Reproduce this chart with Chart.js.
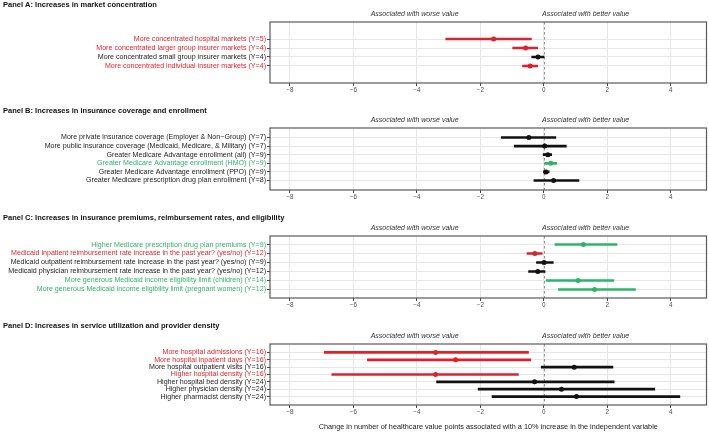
<!DOCTYPE html>
<html>
<head>
<meta charset="utf-8">
<script src="https://cdn.jsdelivr.net/npm/chart.js@4"></script>
<style>
  body { margin: 0; background: #fff; width: 709px; height: 432px; position: relative; overflow: hidden; }
  canvas { position: absolute; left: 0; }
</style>
</head>
<body>
<canvas id="panelA" width="709" height="95"></canvas>
<canvas id="panelB" width="709" height="96"></canvas>
<canvas id="panelC" width="709" height="97"></canvas>
<canvas id="panelD" width="709" height="111"></canvas>
<script>
// shared x axis
const xTicks = [-8, -6, -4, -2, 0, 2, 4];
const xTitle = "Change in number of healthcare value points associated with a 10% increase in the independent variable";

// Panel A
const titleA = "Panel A: Increases in market concentration";
const labelsA = [
  "More concentrated hospital markets (Y=5)",
  "More concentrated larger group insurer markets (Y=4)",
  "More concentrated small group insurer markets (Y=4)",
  "More concentrated individual insurer markets (Y=4)"
];
const groupA = ["worse", "worse", "ns", "worse"];
const lowA = [-3.09, -0.98, -0.38, -0.67];
const estA = [-1.58, -0.57, -0.18, -0.43];
const highA = [-0.39, -0.19, 0.01, -0.19];

// Panel B
const titleB = "Panel B: Increases in insurance coverage and enrollment";
const labelsB = [
  "More private insurance coverage (Employer & Non\u2212Group) (Y=7)",
  "More public insurance coverage (Medicaid, Medicare, & Military) (Y=7)",
  "Greater Medicare Advantage enrollment (all) (Y=9)",
  "Greater Medicare Advantage enrollment (HMO) (Y=9)",
  "Greater Medicare Advantage enrollment (PPO) (Y=9)",
  "Greater Medicare prescription drug plan enrollment (Y=8)"
];
const groupB = ["ns", "ns", "ns", "better", "ns", "ns"];
const lowB = [-1.34, -0.93, -0.02, 0.03, -0.01, -0.31];
const estB = [-0.47, 0.03, 0.13, 0.22, 0.07, 0.31];
const highB = [0.38, 0.71, 0.25, 0.41, 0.17, 1.11];

// Panel C
const titleC = "Panel C: Increases in insurance premiums, reimbursement rates, and eligibility";
const labelsC = [
  "Higher Medicare prescription drug plan premiums (Y=9)",
  "Medicaid inpatient reimbursement rate increase in the past year? (yes/no) (Y=12)",
  "Medicaid outpatient reimbursement rate increase in the past year? (yes/no) (Y=9)",
  "Medicaid physician reimbursement rate increase in the past year? (yes/no) (Y=12)",
  "More generous Medicaid income eligibility limit (children) (Y=14)",
  "More generous Medicaid income eligibility limit (pregnant women) (Y=12)"
];
const groupC = ["better", "worse", "ns", "ns", "better", "better"];
const lowC = [0.35, -0.53, -0.23, -0.48, 0.08, 0.46];
const estC = [1.25, -0.28, 0.01, -0.19, 1.08, 1.60];
const highC = [2.31, -0.05, 0.30, 0.04, 2.21, 2.89];

// Panel D
const titleD = "Panel D: Increases in service utilization and provider density";
const labelsD = [
  "More hospital admissions (Y=16)",
  "More hospital inpatient days (Y=16)",
  "More hospital outpatient visits (Y=16)",
  "Higher hospital density (Y=16)",
  "Higher hospital bed density (Y=24)",
  "Higher physician density (Y=24)",
  "Higher pharmacist density (Y=24)"
];
const groupD = ["worse", "worse", "ns", "worse", "ns", "ns", "ns"];
const lowD = [-6.92, -5.56, -0.08, -6.68, -3.38, -2.07, -1.63];
const estD = [-3.41, -2.78, 0.96, -3.41, -0.29, 0.56, 1.03];
const highD = [-0.48, -0.41, 2.18, -0.80, 2.22, 3.50, 4.29];

const lineColors = { worse: "#e0202e", better: "#2db36a", ns: "#111111" };
const textColors = { worse: "#e3242b", better: "#30b36b", ns: "#222222" };
const FONT = "'Liberation Sans', Arial, sans-serif";

const panelDecor = {
  id: "panelDecor",
  beforeDatasetsDraw(chart) {
    const { ctx, chartArea: a, scales: { x } } = chart;
    const zx = Math.round(x.getPixelForValue(0)) + 0.5;
    ctx.save();
    ctx.strokeStyle = "#777";
    ctx.lineWidth = 0.8;
    ctx.setLineDash([2.5, 2.5]);
    ctx.beginPath();
    ctx.moveTo(zx, a.top);
    ctx.lineTo(zx, a.bottom);
    ctx.stroke();
    ctx.restore();
  },
  afterDatasetsDraw(chart, args, opts) {
    const { ctx, chartArea: a, scales: { x } } = chart;
    ctx.save();
    ctx.strokeStyle = "#5a5a5a";
    ctx.lineWidth = 1.2;
    ctx.strokeRect(a.left, a.top, a.right - a.left, a.bottom - a.top);
    ctx.fillStyle = "#111";
    ctx.font = "bold 7.5px " + FONT;
    ctx.textAlign = "left";
    ctx.textBaseline = "middle";
    ctx.fillText(opts.title, 3, 5);
    ctx.fillStyle = "#333";
    ctx.font = "italic 7px " + FONT;
    ctx.textAlign = "center";
    ctx.fillText("Associated with worse value", x.getPixelForValue(-4.07), a.top - 7.5);
    ctx.fillText("Associated with better value", x.getPixelForValue(1.32), a.top - 7.5);
    if (opts.xTitle) {
      ctx.fillStyle = "#222";
      ctx.font = "7.3px " + FONT;
      ctx.fillText(opts.xTitle, (a.left + a.right) / 2, a.bottom + 22);
    }
    ctx.restore();
  }
};

function makePanel(id, top, padTop, axisH, title, labels, groups, low, est, high, pad, showXTitle) {
  const n = labels.length;
  const idx = labels.map((_, i) => i);
  const canvas = document.getElementById(id);
  canvas.style.top = top + "px";
  new Chart(canvas, {
    type: "bar",
    data: {
      datasets: [
        {
          type: "line",
          data: idx.map(i => ({ x: est[i], y: i })),
          showLine: false,
          pointRadius: 2.5,
          pointHoverRadius: 2.5,
          pointBorderWidth: 0,
          pointBackgroundColor: groups.map(g => lineColors[g]),
          order: 0
        },
        {
          data: idx.map(i => ({ x: [low[i], high[i]], y: i })),
          backgroundColor: groups.map(g => lineColors[g]),
          barThickness: 2,
          borderSkipped: false,
          grouped: false,
          order: 1
        }
      ]
    },
    options: {
      indexAxis: "y",
      responsive: false,
      animation: false,
      devicePixelRatio: 1,
      layout: { padding: { top: padTop, right: 1, left: 0, bottom: 0 } },
      plugins: {
        legend: { display: false },
        tooltip: { enabled: false },
        panelDecor: { title: title, xTitle: showXTitle ? xTitle : "" }
      },
      scales: {
        x: {
          type: "linear",
          min: -8.63,
          max: 5.13,
          afterBuildTicks: s => { s.ticks = xTicks.map(v => ({ value: v })); },
          afterFit: s => { s.height = axisH; },
          border: { display: false },
          grid: { color: "#e6e6e6", lineWidth: 1, tickLength: 3, tickColor: "#444" },
          ticks: {
            color: "#4d4d4d",
            font: { size: 6.3, family: FONT },
            padding: 0,
            maxRotation: 0,
            callback: v => String(v).replace("-", "\u2212")
          }
        },
        y: {
          type: "linear",
          reverse: true,
          offset: false,
          min: -pad,
          max: n - 1 + pad,
          afterBuildTicks: s => { s.ticks = idx.map(v => ({ value: v })); },
          afterFit: s => { s.width = 270; },
          border: { display: false },
          grid: { offset: false, color: "#e6e6e6", lineWidth: 1, tickLength: 3, tickColor: "#444" },
          ticks: {
            autoSkip: false,
            padding: 1,
            font: { size: 7.1, family: FONT },
            color: c => textColors[groups[c.index]],
            callback: v => labels[v]
          }
        }
      }
    },
    plugins: [panelDecor]
  });
}

makePanel("panelA", 0, 22, 12, titleA, labelsA, groupA, lowA, estA, highA, 1.89, false);
makePanel("panelB", 106, 22, 12, titleB, labelsB, groupB, lowB, estB, highB, 1.1, false);
makePanel("panelC", 213, 23, 12, titleC, labelsC, groupC, lowC, estC, highC, 0.95, false);
makePanel("panelD", 321, 23, 27, titleD, labelsD, groupD, lowD, estD, highD, 1.15, true);
</script>
</body>
</html>
